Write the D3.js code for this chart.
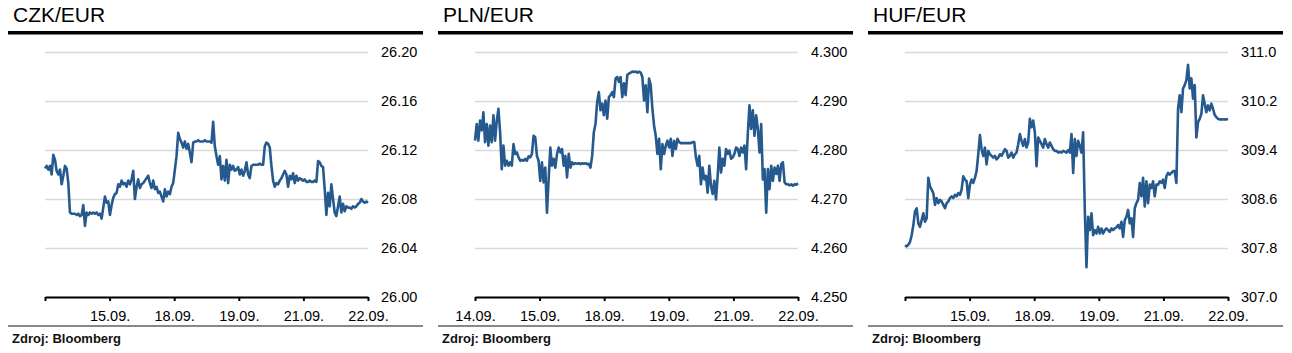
<!DOCTYPE html>
<html>
<head>
<meta charset="utf-8">
<script src="https://cdn.jsdelivr.net/npm/d3@7"></script>
<style>
  body { margin: 0; background: #fff; }
  svg { font-family: "Liberation Sans", Arial, sans-serif; }
</style>
</head>
<body>
<svg width="1292" height="353"></svg>
<script>
// tick positions are equally spaced trading-day marks
var czkDays = ["", "15.09.", "18.09.", "19.09.", "21.09.", "22.09."];
var plnDays = ["14.09.", "15.09.", "18.09.", "19.09.", "21.09.", "22.09."];
var hufDays = ["", "15.09.", "18.09.", "19.09.", "21.09.", "22.09."];

var czkTicks = [26.00, 26.04, 26.08, 26.12, 26.16, 26.20];
var plnTicks = [4.250, 4.260, 4.270, 4.280, 4.290, 4.300];
var hufTicks = [307.0, 307.8, 308.6, 309.4, 310.2, 311.0];

var czkValues = [
  26.105,26.107,26.104,26.107,26.100,26.116,26.112,26.103,26.100,26.104,
  26.092,26.099,26.107,26.105,26.093,26.069,26.068,26.068,26.068,26.067,
  26.068,26.066,26.067,26.075,26.058,26.069,26.067,26.069,26.068,26.069,
  26.068,26.069,26.067,26.068,26.064,26.073,26.082,26.077,26.078,26.067,
  26.075,26.081,26.084,26.085,26.092,26.090,26.095,26.092,26.093,26.090,
  26.095,26.092,26.096,26.103,26.080,26.090,26.096,26.089,26.092,26.093,
  26.095,26.097,26.099,26.093,26.089,26.095,26.088,26.090,26.085,26.086,
  26.082,26.078,26.088,26.082,26.086,26.084,26.090,26.093,26.104,26.115,
  26.134,26.129,26.126,26.122,26.127,26.121,26.125,26.118,26.110,26.126,
  26.127,26.127,26.128,26.127,26.127,26.127,26.128,26.127,26.127,26.127,
  26.126,26.143,26.123,26.115,26.108,26.115,26.096,26.107,26.095,26.112,
  26.093,26.108,26.104,26.107,26.103,26.104,26.106,26.100,26.104,26.099,
  26.103,26.110,26.100,26.097,26.107,26.108,26.108,26.108,26.108,26.109,
  26.108,26.108,26.123,26.126,26.125,26.122,26.107,26.095,26.090,26.093,
  26.092,26.095,26.097,26.100,26.103,26.100,26.090,26.099,26.096,26.101,
  26.093,26.099,26.095,26.097,26.096,26.095,26.096,26.094,26.094,26.095,
  26.094,26.094,26.095,26.094,26.111,26.110,26.107,26.106,26.088,26.067,
  26.085,26.074,26.092,26.080,26.069,26.066,26.074,26.082,26.069,26.076,
  26.070,26.074,26.073,26.073,26.072,26.074,26.073,26.074,26.076,26.077,
  26.080,26.078,26.077,26.078,26.077
];

var plnValues = [
  4.2819,4.2853,4.2819,4.2860,4.2840,4.2877,4.2816,4.2853,4.2809,4.2850,
  4.2816,4.2871,4.2819,4.2860,4.2884,4.2836,4.2761,4.2809,4.2768,4.2778,
  4.2768,4.2775,4.2768,4.2812,4.2792,4.2795,4.2785,4.2778,4.2780,4.2778,
  4.2782,4.2778,4.2787,4.2785,4.2792,4.2829,4.2826,4.2788,4.2778,4.2737,
  4.2775,4.2734,4.2764,4.2672,4.2740,4.2805,4.2768,4.2782,4.2764,4.2792,
  4.2805,4.2795,4.2802,4.2768,4.2788,4.2744,4.2792,4.2764,4.2775,4.2771,
  4.2773,4.2772,4.2773,4.2771,4.2773,4.2772,4.2773,4.2771,4.2772,4.2764,
  4.2788,4.2836,4.2853,4.2898,4.2918,4.2881,4.2895,4.2871,4.2901,4.2864,
  4.2908,4.2912,4.2918,4.2908,4.2946,4.2949,4.2939,4.2949,4.2908,4.2936,
  4.2912,4.2953,4.2956,4.2958,4.2960,4.2959,4.2960,4.2958,4.2960,4.2958,
  4.2949,4.2901,4.2932,4.2877,4.2946,4.2932,4.2884,4.2850,4.2829,4.2792,
  4.2823,4.2761,4.2812,4.2792,4.2809,4.2819,4.2805,4.2823,4.2788,4.2819,
  4.2802,4.2823,4.2816,4.2814,4.2814,4.2814,4.2814,4.2814,4.2814,4.2814,
  4.2816,4.2816,4.2785,4.2768,4.2788,4.2730,4.2764,4.2740,4.2747,4.2713,
  4.2768,4.2727,4.2710,4.2737,4.2699,4.2747,4.2805,4.2754,4.2782,4.2768,
  4.2802,4.2792,4.2799,4.2782,4.2785,4.2792,4.2805,4.2802,4.2788,4.2805,
  4.2795,4.2809,4.2761,4.2833,4.2891,4.2843,4.2881,4.2829,4.2871,4.2843,
  4.2795,4.2853,4.2740,4.2761,4.2672,4.2761,4.2720,4.2768,4.2737,4.2764,
  4.2751,4.2768,4.2737,4.2771,4.2775,4.2734,4.2730,4.2730,4.2728,4.2730,
  4.2727,4.2730,4.2729,4.2732
];

var hufValues = [
  307.844,307.827,307.854,307.898,308.009,308.174,308.394,308.449,308.201,308.146,
  308.256,308.367,308.229,308.284,308.945,308.807,308.752,308.697,308.504,308.614,
  308.532,308.586,308.559,308.504,308.449,308.532,308.559,308.614,308.642,308.614,
  308.669,308.642,308.697,308.669,308.752,308.972,308.917,308.890,308.614,308.834,
  308.917,308.862,308.945,309.055,309.330,309.644,309.413,309.303,309.440,309.165,
  309.385,309.330,309.303,309.275,309.303,309.247,309.275,309.330,309.303,309.358,
  309.413,309.385,309.275,309.303,309.358,309.275,309.330,309.358,309.495,309.660,
  309.550,309.468,309.578,309.440,309.523,309.908,309.771,309.881,309.688,309.137,
  309.605,309.550,309.495,309.440,309.578,309.495,309.440,309.523,309.468,309.413,
  309.385,309.385,309.358,309.369,309.358,309.385,309.374,309.358,309.396,309.358,
  309.660,309.027,309.578,309.303,309.550,309.468,309.358,309.688,308.422,307.486,
  308.311,308.091,308.367,308.009,308.091,308.036,308.146,308.036,308.119,308.036,
  308.091,308.119,308.091,308.064,308.119,308.091,308.119,308.135,308.174,308.119,
  308.229,307.981,308.256,308.311,308.422,308.201,308.284,307.981,308.449,308.532,
  308.586,308.862,308.642,308.945,308.477,308.890,308.532,308.834,308.779,308.890,
  308.642,308.834,308.834,308.890,308.862,308.917,308.779,308.972,309.027,309.000,
  309.027,309.055,309.055,308.862,310.073,310.294,310.018,310.404,310.459,310.541,
  310.789,310.404,310.569,310.239,310.459,309.605,309.853,309.908,309.991,310.294,
  310.156,310.018,310.128,310.046,310.156,310.073,309.974,309.936,309.908,309.897,
  309.903,309.897,309.903,309.897,309.908
];

var svg = d3.select("svg");
var lineColor = "#265a8e";

function drawPanel(offset, title, values, ticks, days, fmt) {
  var g = svg.append("g").attr("transform", "translate(" + offset + ",0)");
  var left = 45, right = 368, top = 52, bottom = 297;

  g.append("text")
    .attr("x", 13).attr("y", 22)
    .attr("font-size", 21)
    .attr("fill", "#000")
    .text(title);

  g.append("rect")
    .attr("x", 8).attr("y", 31)
    .attr("width", 415).attr("height", 3.5)
    .attr("fill", "#000");

  var x = d3.scaleLinear().domain([0, days.length - 1]).range([left, right]);
  var y = d3.scaleLinear().domain([ticks[0], ticks[ticks.length - 1]]).range([bottom, top]);

  // gridlines + right labels
  var ya = g.append("g")
    .attr("transform", "translate(" + right + ",0)")
    .call(d3.axisRight(y).tickValues(ticks).tickSize(-(right - left)).tickPadding(13).tickFormat(d3.format(fmt)));
  ya.select(".domain").remove();
  ya.selectAll(".tick line").attr("stroke", "#d9d9d9").attr("stroke-width", 1.6);
  ya.selectAll(".tick text").attr("font-size", 14.5).attr("fill", "#000")
    .attr("font-family", "Liberation Sans, Arial, sans-serif");

  var xa = g.append("g")
    .attr("transform", "translate(0," + bottom + ")")
    .call(d3.axisBottom(x).tickValues(d3.range(days.length)).tickSize(4).tickSizeOuter(0).tickPadding(10)
      .tickFormat(function(i) { return days[i]; }));
  xa.select(".domain").attr("stroke", "#000").attr("stroke-width", 2);
  xa.selectAll(".tick line").attr("stroke", "#000").attr("stroke-width", 2);
  xa.selectAll(".tick text").attr("font-size", 14.5).attr("fill", "#000")
    .attr("font-family", "Liberation Sans, Arial, sans-serif");

  var n = values.length;
  var line = d3.line()
    .x(function(d, i) { return x(i * (days.length - 1) / (n - 1)); })
    .y(function(d) { return y(d); });

  g.append("path")
    .datum(values)
    .attr("fill", "none")
    .attr("stroke", lineColor)
    .attr("stroke-width", 2.6)
    .attr("stroke-linejoin", "round")
    .attr("d", line);

  g.append("rect")
    .attr("x", 8).attr("y", 325)
    .attr("width", 415).attr("height", 2)
    .attr("fill", "#888");

  g.append("text")
    .attr("x", 12).attr("y", 343)
    .attr("font-size", 13)
    .attr("font-weight", "bold")
    .attr("fill", "#111")
    .text("Zdroj: Bloomberg");
}

drawPanel(0, "CZK/EUR", czkValues, czkTicks, czkDays, ".2f");
drawPanel(430, "PLN/EUR", plnValues, plnTicks, plnDays, ".3f");
drawPanel(860, "HUF/EUR", hufValues, hufTicks, hufDays, ".1f");
</script>
</body>
</html>
